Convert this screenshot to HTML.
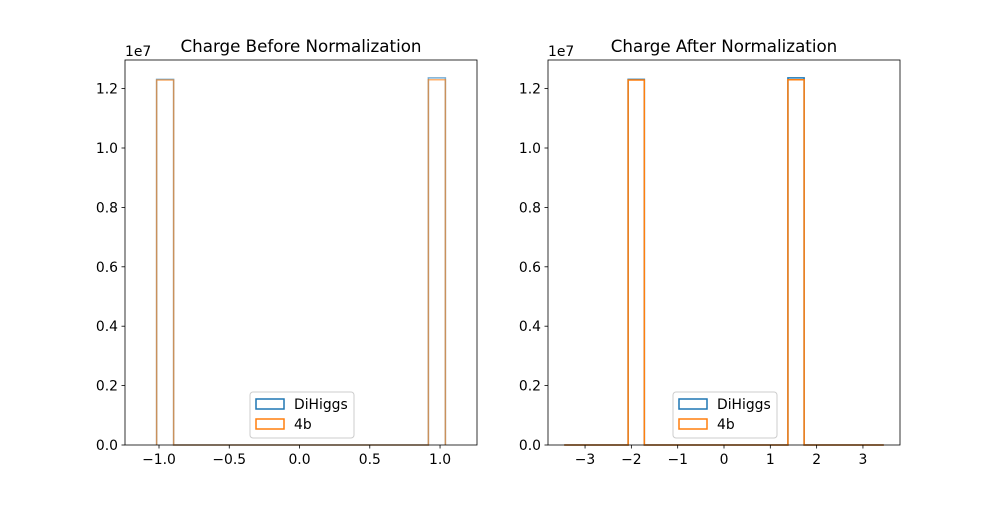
<!DOCTYPE html>
<html><head><meta charset="utf-8"><style>
body{margin:0;background:#fff}
svg{font-family:"DejaVu Sans","Liberation Sans",sans-serif}
</style></head><body>
<svg id="c" width="1000" height="500"></svg>
<script>
const leftEdges=[-1.017,-0.896,0.917,1.038];
const leftDiHiggs=[1.231e7,0,1.236e7];
const left4b=[1.229e7,0,1.230e7];
const rightEdges=[-3.45,-2.07,-1.72,1.38,1.73,3.45];
const rightDiHiggs=[0,1.231e7,0,1.236e7,0];
const right4b=[0,1.229e7,0,1.230e7,0];
const leftXTicks=[-1.0,-0.5,0.0,0.5,1.0];
const rightXTicks=[-3,-2,-1,0,1,2,3];
const yTicks=[0,0.2,0.4,0.6,0.8,1.0,1.2];
const titles=["Charge Before Normalization","Charge After Normalization"];
const NS="http://www.w3.org/2000/svg";
const svg=document.getElementById('c');
function mk(t,a,p){const e=document.createElementNS(NS,t);for(const k in a)e.setAttribute(k,a[k]);(p||svg).appendChild(e);return e;}
const panels=[
 {x0:125,x1:477,xmin:-1.242,xmax:1.263,edges:leftEdges,s1:leftDiHiggs,s2:left4b,ticks:leftXTicks,fmt:v=>v.toFixed(1).replace('-','−'),title:titles[0],name:'left'},
 {x0:548,x1:900,xmin:-3.80,xmax:3.80,edges:rightEdges,s1:rightDiHiggs,s2:right4b,ticks:rightXTicks,fmt:v=>String(v).replace('-','−'),title:titles[1],name:'right'}];
const yTop=60,yBot=445,ymax=1.2963e7;
panels.forEach(p=>{
 const g=mk('g',{});
 
 
 const X=v=>p.x0+(v-p.xmin)/(p.xmax-p.xmin)*(p.x1-p.x0);
 const Y=v=>yBot-v/ymax*(yBot-yTop);
 function step(edges,vals,color,op,nm){
   let d='M'+X(edges[0])+','+Y(0);
   for(let i=0;i<vals.length;i++){d+=' L'+X(edges[i])+','+Y(vals[i])+' L'+X(edges[i+1])+','+Y(vals[i]);}
   d+=' L'+X(edges[edges.length-1])+','+Y(0);
   const e=mk('path',{d:d,fill:'none',stroke:color,'stroke-width':1.5,'stroke-opacity':op},g);
   
   
 }
 step(p.edges,p.s1,'#1f77b4',p.name=='left'?0.6:1,'dihiggs-hist');
 step(p.edges,p.s2,'#ff7f0e',p.name=='left'?0.6:1,'4b-hist');
 const fr=mk('rect',{x:p.x0,y:yTop,width:p.x1-p.x0,height:yBot-yTop,fill:'none',stroke:'#000','stroke-width':0.8},g);
 
 p.ticks.forEach(t=>{const x=X(t);mk('line',{x1:x,x2:x,y1:yBot,y2:yBot+3.5,stroke:'#000','stroke-width':0.8},g);
  const tx=mk('text',{x:x,y:yBot+19,'font-size':13.9,'text-anchor':'middle'},g);tx.textContent=p.fmt(t);
  });
 yTicks.forEach(t=>{const y=Y(t*1e7);mk('line',{x1:p.x0-3.5,x2:p.x0,y1:y,y2:y,stroke:'#000','stroke-width':0.8},g);
  const tx=mk('text',{x:p.x0-7,y:y+5,'font-size':13.9,'text-anchor':'end'},g);tx.textContent=t.toFixed(1);
  });
 const off=mk('text',{x:p.x0,y:56,'font-size':13.9},g);off.textContent='1e7';
 
 const ti=mk('text',{x:(p.x0+p.x1)/2,y:52,'font-size':16.7,'text-anchor':'middle'},g);ti.textContent=p.title;
 
 const lx=(p.x0+p.x1)/2-51;
 const lg=mk('g',{},g);
 mk('rect',{x:lx,y:392,width:104,height:46,rx:3,fill:'#fff','fill-opacity':0.8,stroke:'#ccc'},lg);
 [['DiHiggs','#1f77b4'],['4b','#ff7f0e']].forEach((e,i)=>{
  const r=mk('rect',{x:lx+6,y:399+i*20,width:28,height:10,fill:'none',stroke:e[1],'stroke-width':1.5},lg);
  
  const t=mk('text',{x:lx+44,y:409+i*20,'font-size':13.9},lg);t.textContent=e[0];
  
 });
});
</script>
</body></html>
